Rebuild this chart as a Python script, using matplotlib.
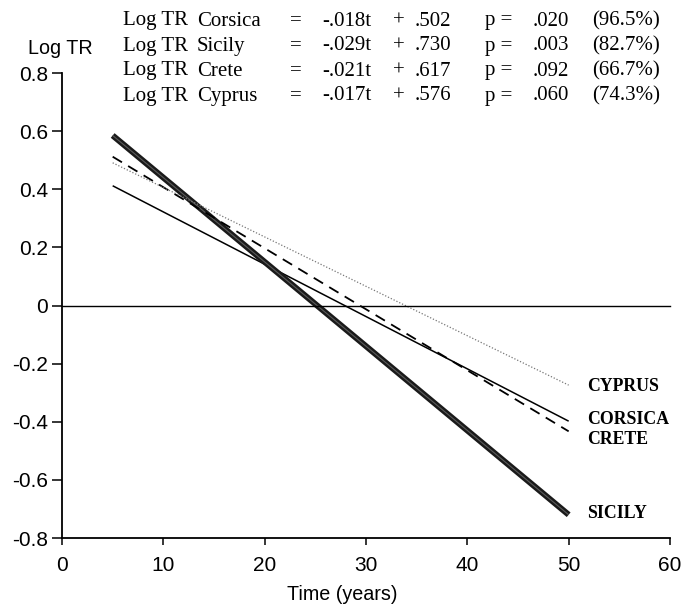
import matplotlib.pyplot as plt
import numpy as np

# regression lines: Log TR = slope * t + intercept
islands = ["Corsica", "Sicily", "Crete", "Cyprus"]
slopes = [-0.018, -0.029, -0.021, -0.017]
intercepts = [0.502, 0.730, 0.617, 0.576]
slope_txt = ["-.018t", "-.029t", "-.021t", "-.017t"]
icpt_txt = [".502", ".730", ".617", ".576"]
p_txt = [".020", ".003", ".092", ".060"]
pct_txt = ["(96.5%)", "(82.7%)", "(66.7%)", "(74.3%)"]
t_range = [5, 50]

styles = {
    "Corsica": dict(color="black", lw=1.1, ls="-"),
    "Sicily": dict(color="#1a1a1a", lw=4.3, ls="-"),
    "Crete": dict(color="black", lw=1.3, ls=(0, (6, 4))),
    "Cyprus": dict(color="#777777", lw=0.9, ls=(0, (1, 1.5))),
}
end_labels = {"CYPRUS": -0.278, "CORSICA": -0.392, "CRETE": -0.461, "SICILY": -0.714}

sans = "Liberation Sans"
serif = "Liberation Serif"

W, H = 690, 604
fig = plt.figure(figsize=(6.9, 6.04), dpi=100)
ax = fig.add_axes([62 / W, 1 - 538 / H, (670 - 62) / W, (538 - 73) / H])

t = np.array(t_range)
for name, m, b in zip(islands, slopes, intercepts):
    ax.plot(t, m * t + b, solid_capstyle="butt", **styles[name])
    if name == "Sicily":
        # double-line look of the thick trace
        ax.plot(t, m * t + b, color="#5a5a5a", lw=0.8, solid_capstyle="butt")

ax.plot([0, 60], [0, 0], color="black", lw=1.0, clip_on=False)

ax.set_xlim(0, 60)
ax.set_ylim(-0.8, 0.8)
ax.set_xticks(range(0, 61, 10))
ax.set_yticks(np.arange(-0.8, 0.81, 0.2))
ax.set_yticklabels(["-0.8", "-0.6", "-0.4", "-0.2", "0", "0.2", "0.4", "0.6", "0.8"])
for s in ["top", "right"]:
    ax.spines[s].set_visible(False)
for s in ["left", "bottom"]:
    ax.spines[s].set_linewidth(1.3)
ax.tick_params(axis="y", direction="out", length=7, width=1.1, labelsize=15, pad=3)
ax.tick_params(axis="x", direction="out", length=5, width=1.1, labelsize=15, pad=8)
for lab in ax.get_xticklabels() + ax.get_yticklabels():
    lab.set_family(sans)

fig.text(342 / W, 1 - 594 / H, "Time (years)", family=sans, fontsize=14.2,
         ha="center", va="center")
fig.text(28 / W, 1 - 48 / H, "Log TR", family=sans, fontsize=14.2, va="center")

# equation block
cols = [123, 197, 290, 322, 393, 415, 485, 533, 592]
rows = [21, 46, 71, 96]
for i, name in enumerate(islands):
    parts = ["Log TR", name, "=", slope_txt[i], "+", icpt_txt[i], "p =", p_txt[i], pct_txt[i]]
    for x, s in zip(cols, parts):
        fig.text(x / W, 1 - rows[i] / H, s, family=serif, fontsize=15, va="center")

for lab, y in end_labels.items():
    ax.text(51.8, y, lab, family=serif, fontsize=12.8, fontweight="bold", va="center")

fig.savefig("out.png", dpi=100)
